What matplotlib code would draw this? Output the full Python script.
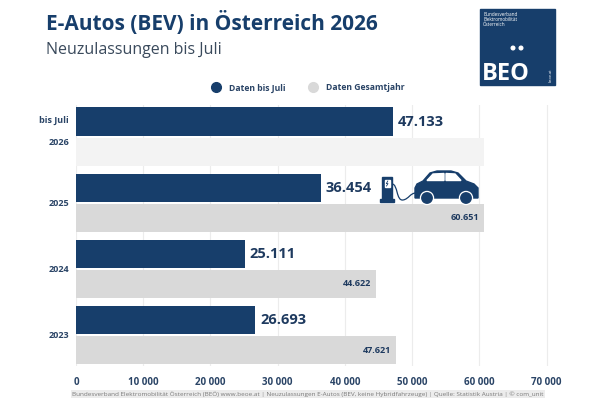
import matplotlib
matplotlib.use("Agg")
import matplotlib.pyplot as plt
from matplotlib.lines import Line2D
from matplotlib.patches import Rectangle, Polygon, Circle, PathPatch
from matplotlib.path import Path
from matplotlib import transforms

plt.rcParams['font.family'] = ['Open Sans', 'DejaVu Sans']

# data
years = ['2026', '2025', '2024', '2023']
bis_juli = [47133, 36454, 25111, 26693]
gesamtjahr = [60700, 60651, 44622, 47621]
gesamt_labels = ['', '60.651', '44.622', '47.621']
xticks = [0, 10000, 20000, 30000, 40000, 50000, 60000, 70000]

NAVY = '#173e6b'
GREY = '#d9d9d9'
LIGHT = '#f3f3f3'
TXT = '#1e3a5f'


def fmt_dot(v):
    return f"{v:,}".replace(',', '.')


def fmt_space(v):
    return f"{v:,}".replace(',', ' ')


fig = plt.figure(figsize=(6, 4), dpi=100)
fig.patch.set_facecolor('white')

ax = fig.add_axes([76 / 600, 34 / 400, 474 / 600, 261 / 400])
pos = list(range(len(years)))
h = 0.43
off = 0.228
grey_cols = [LIGHT] + [GREY] * (len(years) - 1)
ax.barh([p + off for p in pos], gesamtjahr, height=h, color=grey_cols, zorder=2)
ax.barh([p - off for p in pos], bis_juli, height=h, color=NAVY, zorder=3)

for p, v in zip(pos, bis_juli):
    ax.text(v + 700, p - off, fmt_dot(v), va='center', ha='left',
            fontsize=10.5, fontweight='bold', color=TXT, zorder=4)
for p, v, lab in zip(pos, gesamtjahr, gesamt_labels):
    if lab:
        ax.text(v - 700, p + off, lab, va='center', ha='right',
                fontsize=6.5, fontweight='bold', color=TXT, zorder=4)

ax.set_xlim(0, 70500)
ax.set_ylim(3.47, -0.48)
ax.set_xticks(xticks)
ax.set_xticklabels([fmt_space(t) for t in xticks], fontsize=7,
                   fontweight='bold', color='#2a4466')
ax.set_yticks([0.07, 1, 2, 3])
ax.set_yticklabels(years, fontsize=6.5, fontweight='bold', color='#2a4466')
ax.tick_params(length=0, pad=5)
ax.tick_params(axis='x', pad=8)
ax.text(-0.015, -0.24, 'bis Juli', transform=transforms.blended_transform_factory(ax.transAxes, ax.transData),
        ha='right', va='center', fontsize=6.5, fontweight='bold', color='#2a4466')
ax.grid(axis='x', color='#ececec', linewidth=0.8, zorder=0)
for s in ax.spines.values():
    s.set_visible(False)

# title
fig.text(46 / 600, 1 - 23 / 400, 'E-Autos (BEV) in Österreich 2026', fontsize=15,
         fontweight='bold', color=NAVY, va='center', ha='left')
fig.text(46 / 600, 1 - 50 / 400, 'Neuzulassungen bis Juli', fontsize=11.5,
         color='#3a4a5c', va='center', ha='left')

# legend
handles = [Line2D([], [], marker='o', ls='', markersize=7, color=NAVY),
           Line2D([], [], marker='o', ls='', markersize=7, color=GREY)]
fig.legend(handles, ['Daten bis Juli', 'Daten Gesamtjahr'], loc='center',
           bbox_to_anchor=(306 / 600, 1 - 88 / 400), ncol=2, frameon=False,
           prop={'size': 6.2, 'weight': 'bold'}, labelcolor='#2a4466',
           handletextpad=0.5, columnspacing=2.2)

# overlay for logo, icon and footer (pixel coordinates)
ov = fig.add_axes([0, 0, 1, 1], zorder=5)
ov.set_xlim(0, 600)
ov.set_ylim(400, 0)
ov.axis('off')

# logo
ov.add_patch(Rectangle((480, 9), 75, 76, color=NAVY))
ov.text(483, 12, 'Bundesverband\nElektromobilität\nÖsterreich', fontsize=3.3,
        color='white', va='top', ha='left', linespacing=1.0)
ov.add_patch(Circle((513, 48), 1.8, color='white'))
ov.add_patch(Circle((521, 48), 1.8, color='white'))
ov.text(482, 74, 'BEO', fontsize=17, color='white', ha='left', va='center', fontweight='bold')
ov.text(551, 75, 'beoe.at', fontsize=2.8, color='white', rotation=90, ha='center', va='center')

# charging station + car
ov.add_patch(Rectangle((382, 177), 10, 23, color=NAVY))
ov.add_patch(Rectangle((380, 199), 14, 2.5, color=NAVY))
ov.add_patch(Rectangle((384.5, 180), 5, 7, color='white'))
ov.plot([387.8, 386.3, 388, 386.5], [181, 183.6, 183.6, 186], color=NAVY, lw=0.6)
cable = Path([(392, 184), (398, 184), (396, 201), (403, 200), (409, 199), (410, 193), (416, 193)],
             [Path.MOVETO, Path.CURVE4, Path.CURVE4, Path.CURVE4, Path.CURVE4, Path.CURVE4, Path.CURVE4])
ov.add_patch(PathPatch(cable, fill=False, color=NAVY, lw=0.9))
body = [(415, 198), (415, 188), (417, 184), (423, 181), (430, 173), (437, 171), (451, 171),
        (458, 173), (466, 181), (474, 184), (478, 188), (478, 198)]
ov.add_patch(Polygon(body, closed=True, color=NAVY))
ov.add_patch(Polygon([(427, 180.5), (433, 174), (444, 173.5), (444, 180.5)], color='white'))
ov.add_patch(Polygon([(446, 180.5), (446, 173.5), (455, 174), (461, 180.5)], color='white'))
for cx in (427, 466):
    ov.add_patch(Circle((cx, 198), 6.5, color='white'))
    ov.add_patch(Circle((cx, 198), 5.2, color=NAVY))

# footer
ov.text(308, 394, 'Bundesverband Elektromobilität Österreich (BEÖ) www.beoe.at | Neuzulassungen E-Autos '
        '(BEV, keine Hybridfahrzeuge) | Quelle: Statistik Austria | © com_unit',
        fontsize=4.6, color='#7a7a7a', ha='center', va='center',
        bbox=dict(boxstyle='square,pad=0.25', fc='#ececec', ec='none'))

fig.savefig('out.png', dpi=100, facecolor='white')
